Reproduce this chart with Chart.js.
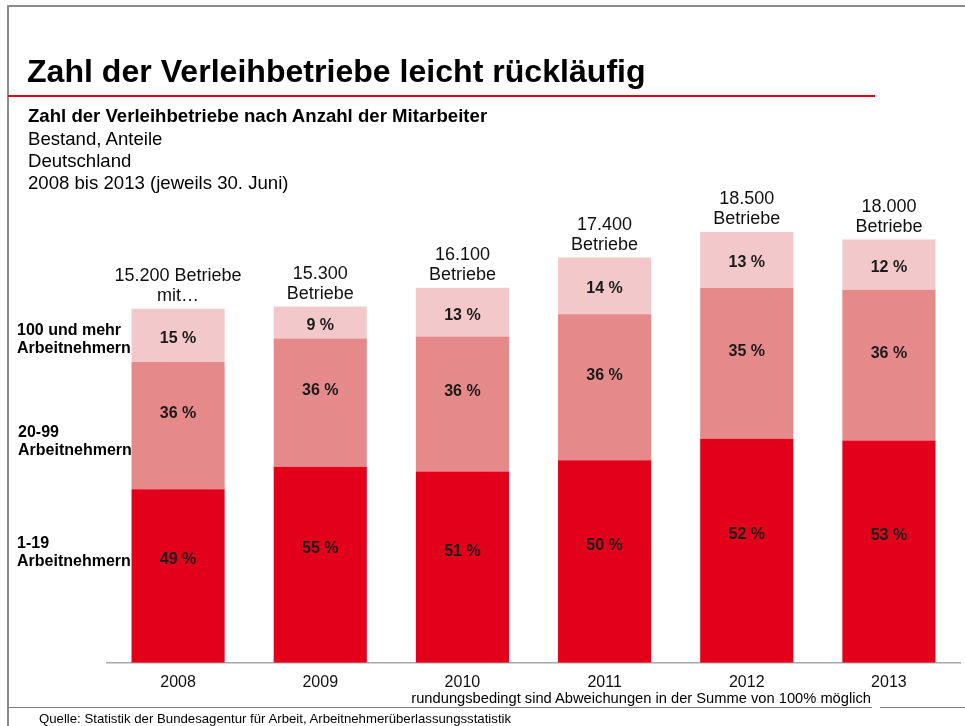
<!DOCTYPE html>
<html>
<head>
<meta charset="utf-8">
<script src="https://cdn.jsdelivr.net/npm/chart.js@4/dist/chart.umd.min.js"></script>
<style>
  html, body { margin:0; padding:0; background:#fff; }
  body { width:965px; height:726px; position:relative; overflow:hidden; font-family:"Liberation Sans", Arial, sans-serif; color:#000; }
  .t { position:absolute; white-space:nowrap; line-height:1; }
  .ln { position:absolute; }
  #wrap { position:absolute; left:0; top:0; width:965px; height:726px; }
</style>
</head>
<body>
<div id="wrap"><canvas id="c" width="965" height="726"></canvas></div>

<div class="ln" style="left:8px;top:5px;width:957px;height:2px;background:#8c8c8c"></div>
<div class="ln" style="left:7px;top:5px;width:2px;height:721px;background:#8c8c8c"></div>
<div class="ln" style="left:8px;top:95px;width:867px;height:2px;background:#E2001A"></div>
<div class="ln" style="left:8px;top:706.5px;width:864px;height:1.5px;background:#7f7f7f"></div>
<div class="ln" style="left:880px;top:706.5px;width:85px;height:1.5px;background:#7f7f7f"></div>

<div class="t" style="left:27px;top:54.8px;font-size:32.1px;font-weight:bold">Zahl der Verleihbetriebe leicht rückläufig</div>
<div class="t" style="left:28px;top:106.8px;font-size:18.6px;font-weight:bold">Zahl der Verleihbetriebe nach Anzahl der Mitarbeiter</div>
<div class="t" style="left:28px;top:129.6px;font-size:18.6px">Bestand, Anteile</div>
<div class="t" style="left:28px;top:152px;font-size:18.6px">Deutschland</div>
<div class="t" style="left:28px;top:174.3px;font-size:18.6px">2008 bis 2013 (jeweils 30. Juni)</div>

<div class="t" style="left:17px;top:320.5px;font-size:16px;line-height:18px;font-weight:bold">100 und mehr<br>Arbeitnehmern</div>
<div class="t" style="left:18px;top:423px;font-size:16px;line-height:18.3px;font-weight:bold">20-99<br>Arbeitnehmern</div>
<div class="t" style="left:17px;top:533.5px;font-size:16px;line-height:18px;font-weight:bold">1-19<br>Arbeitnehmern</div>

<div class="t" style="right:94px;top:690.9px;font-size:14.7px">rundungsbedingt sind Abweichungen in der Summe von 100% möglich</div>
<div class="t" style="left:39px;top:711.8px;font-size:13.2px">Quelle: Statistik der Bundesagentur für Arbeit, Arbeitnehmerüberlassungsstatistik</div>

<script>
// ---- data ----
const years = ['2008', '2009', '2010', '2011', '2012', '2013'];
const totals = [15200, 15300, 16100, 17400, 18500, 18000];
const share_1_19 = [49, 55, 51, 50, 52, 53];
const share_20_99 = [36, 36, 36, 36, 35, 36];
const share_100plus = [15, 9, 13, 14, 13, 12];
const topLabels = [
  ['15.200 Betriebe', 'mit…'],
  ['15.300', 'Betriebe'],
  ['16.100', 'Betriebe'],
  ['17.400', 'Betriebe'],
  ['18.500', 'Betriebe'],
  ['18.000', 'Betriebe']
];
const seriesNames = ['1-19 Arbeitnehmern', '20-99 Arbeitnehmern', '100 und mehr Arbeitnehmern'];
const yMax = 20000;

// ---- styles ----
const colors = ['#E2001A', '#E6898A', '#F3C8CA'];
const labelOffsets = [-16, -12, 3];
const FONT = '"Liberation Sans", Arial, sans-serif';

const shares = [share_1_19, share_20_99, share_100plus];
const datasets = shares.map((s, k) => ({
  label: seriesNames[k],
  data: s.map((p, i) => totals[i] * p / 100),
  shares: s,
  backgroundColor: colors[k],
  borderWidth: 0,
  barPercentage: 0.655,
  categoryPercentage: 1.0
}));

const labelPlugin = {
  id: 'labels',
  afterDatasetsDraw(chart) {
    const ctx = chart.ctx;
    ctx.save();
    ctx.textAlign = 'center';
    ctx.textBaseline = 'middle';
    chart.data.datasets.forEach((ds, k) => {
      const meta = chart.getDatasetMeta(k);
      ctx.font = 'bold 16px ' + FONT;
      ctx.fillStyle = '#1a1a1a';
      meta.data.forEach((el, i) => {
        const y = (el.y + el.base) / 2 + labelOffsets[k];
        ctx.fillText(ds.shares[i] + ' %', el.x, y);
      });
    });
    const last = chart.getDatasetMeta(chart.data.datasets.length - 1);
    ctx.font = '18px ' + FONT;
    ctx.fillStyle = '#111';
    last.data.forEach((el, i) => {
      const lines = topLabels[i];
      ctx.fillText(lines[0], el.x, el.y - 32.5);
      ctx.fillText(lines[1], el.x, el.y - 12.5);
    });
    ctx.restore();
  }
};

new Chart(document.getElementById('c'), {
  type: 'bar',
  data: { labels: years, datasets },
  options: {
    responsive: false,
    animation: false,
    devicePixelRatio: 1,
    layout: { padding: { left: 107, right: 5, top: 197, bottom: 24 } },
    plugins: { legend: { display: false }, tooltip: { enabled: false }, title: { display: false } },
    scales: {
      x: {
        stacked: true,
        grid: { display: false, drawTicks: false, tickLength: 0 },
        border: { display: true, color: '#a8a8a8', width: 1.5 },
        ticks: { color: '#111', font: { family: FONT, size: 16 }, padding: 10, maxRotation: 0 }
      },
      y: {
        stacked: true,
        display: false,
        min: 0,
        max: yMax
      }
    }
  },
  plugins: [labelPlugin]
});
</script>
</body>
</html>
